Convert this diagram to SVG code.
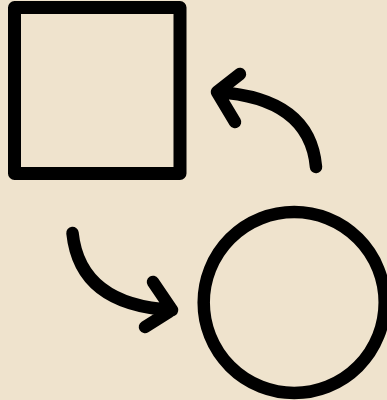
<svg xmlns="http://www.w3.org/2000/svg" width="387" height="400" viewBox="0 0 387 400">
<style>
.s{fill:none;stroke:#000;stroke-linecap:round;stroke-linejoin:round}
</style>
<rect width="387" height="400" fill="#EFE3CD"/>
<g id="square"><rect class="s" x="14.5" y="7.5" width="165.5" height="166" stroke-width="13"/></g>
<g id="circle"><circle class="s" cx="294.2" cy="302.5" r="90.5" stroke-width="12.5"/></g>
<g id="connectors">
<path class="s" stroke-width="12.5" d="M316,167 Q310,98 217,92 M240,74 L217,92 L235,122"/>
<path class="s" stroke-width="12.5" d="M72.5,233 Q80,305 172,310 M153,282 L172,310 L145,327"/>
</g>
</svg>
